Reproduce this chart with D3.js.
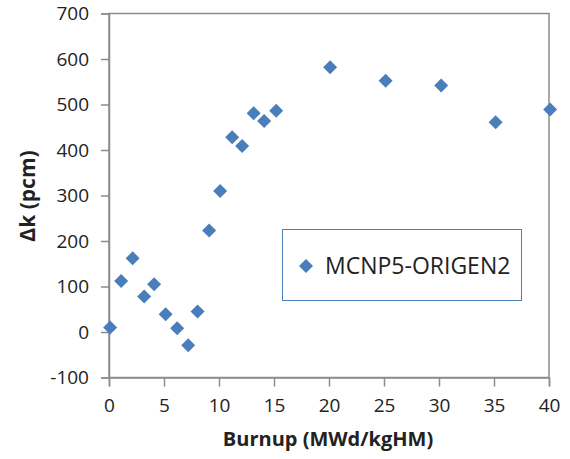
<!DOCTYPE html>
<html>
<head>
<meta charset="utf-8">
<script src="https://cdn.jsdelivr.net/npm/d3@7"></script>
<style>
  body { margin: 0; background: #fff; }
  text { font-family: "Open Sans", "Noto Sans", sans-serif; fill: #222; }
</style>
</head>
<body>
<script>
const burnup = [0.1, 1.1, 2.15, 3.2, 4.1, 5.15, 6.2, 7.2, 8.05, 9.1, 10.1, 11.2, 12.1, 13.15, 14.1, 15.2, 20.1, 25.15, 30.2, 35.15, 40.1]
const deltaK = [10, 112, 162, 78, 105, 39, 8, -29, 45, 223, 310, 428, 409, 481, 464, 486, 582, 552, 542, 461, 489]
const xTicks = [0, 5, 10, 15, 20, 25, 30, 35, 40]
const yTicks = [-100, 0, 100, 200, 300, 400, 500, 600, 700]
const seriesName = 'MCNP5-ORIGEN2'

const w = 570
const h = 459
const plotLeft = 109
const plotRight = 549
const plotTop = 13.5
const plotBottom = 377.5
const blue = '#4a7ebb'
const axisGray = '#8c8c8c'

const svg = d3.select('body').append('svg')
    .attr('width', w)
    .attr('height', h)

const x = d3.scaleLinear().domain([0, 40]).range([plotLeft, plotRight])
const y = d3.scaleLinear().domain([-100, 700]).range([plotBottom, plotTop])

// frame
svg.append('rect')
    .attr('x', plotLeft)
    .attr('y', plotTop)
    .attr('width', plotRight - plotLeft)
    .attr('height', plotBottom - plotTop)
    .attr('fill', 'none')
    .attr('stroke', axisGray)
    .attr('stroke-width', 1.5)

const xAxis = svg.append('g')
    .attr('transform', `translate(0, ${plotBottom})`)
    .call(d3.axisBottom(x).tickValues(xTicks).tickFormat(d => String(d)).tickSizeOuter(0).tickSize(9).tickPadding(12))
xAxis.select('.domain').attr('stroke', axisGray).attr('stroke-width', 1.5)
xAxis.selectAll('.tick line').attr('stroke', axisGray).attr('stroke-width', 1.5)
xAxis.selectAll('.tick text').style('font-size', '19px').attr('fill', '#222')

const yAxis = svg.append('g')
    .attr('transform', `translate(${plotLeft}, 0)`)
    .call(d3.axisLeft(y).tickValues(yTicks).tickFormat(d => String(d)).tickSizeOuter(0).tickSize(8).tickPadding(12))
yAxis.select('.domain').attr('stroke', axisGray).attr('stroke-width', 1.5)
yAxis.selectAll('.tick line').attr('stroke', axisGray).attr('stroke-width', 1.5)
yAxis.selectAll('.tick text').style('font-size', '19px').attr('fill', '#222')

svg.selectAll('text').style('font-family', '"Open Sans", "Noto Sans", sans-serif')

// axis titles
svg.append('text')
    .attr('x', (plotLeft + plotRight) / 2 - 1)
    .attr('y', 446)
    .attr('text-anchor', 'middle')
    .style('font-size', '20px')
    .style('font-weight', 'bold')
    .text('Burnup (MWd/kgHM)')

svg.append('text')
    .attr('transform', 'translate(35, 196) rotate(-90)')
    .attr('text-anchor', 'middle')
    .style('font-size', '21px')
    .style('font-weight', 'bold')
    .text('Δk (pcm)')

// points
const diamond = d3.symbol().type(d3.symbolSquare).size(98)
svg.append('g').selectAll('path')
    .data(burnup.map((b, i) => [b, deltaK[i]]))
    .enter()
    .append('path')
    .attr('d', diamond)
    .attr('transform', d => `translate(${x(d[0])}, ${y(d[1])}) rotate(45)`)
    .attr('fill', blue)

// legend
const legend = svg.append('g')
legend.append('rect')
    .attr('x', 282.5)
    .attr('y', 229.5)
    .attr('width', 239)
    .attr('height', 71)
    .attr('fill', '#fff')
    .attr('stroke', blue)
    .attr('stroke-width', 1)
legend.append('path')
    .attr('d', diamond)
    .attr('transform', 'translate(306, 266) rotate(45)')
    .attr('fill', blue)
legend.append('text')
    .attr('x', 325)
    .attr('y', 266)
    .attr('dy', '0.35em')
    .style('font-size', '23px')
    .text(seriesName)
</script>
</body>
</html>
